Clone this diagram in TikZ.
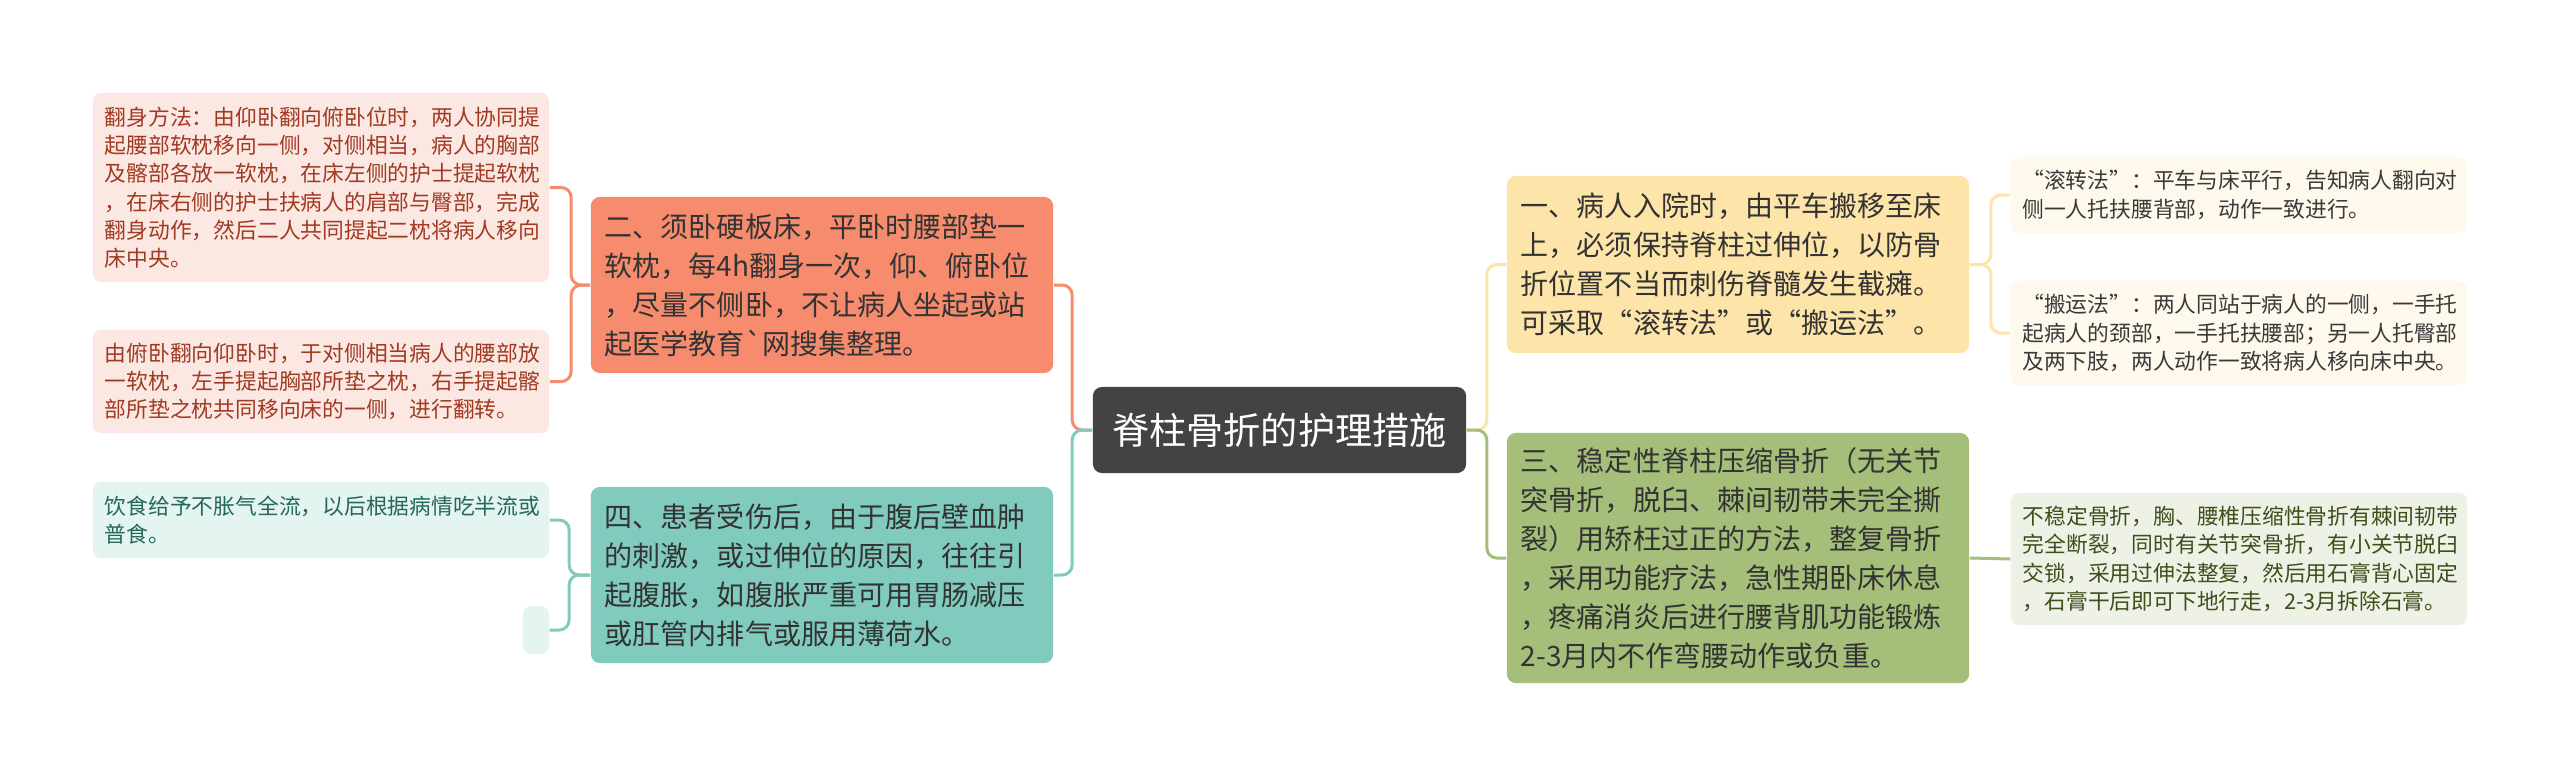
\documentclass[tikz,border=0pt]{standalone}
\usepackage{fontspec}
\setmainfont{Noto Sans CJK SC}[Ligatures=TeXOff]
\usepackage{tikz}

% Colours
\definecolor{centreC}{HTML}{434343}
\definecolor{orMain}{HTML}{F68C6D}
\definecolor{orLeaf}{HTML}{FCE8E3}
\definecolor{orText}{HTML}{A13A22}
\definecolor{tlMain}{HTML}{80CBBD}
\definecolor{tlLeaf}{HTML}{E3F4F1}
\definecolor{tlText}{HTML}{25685A}
\definecolor{ylMain}{HTML}{FDE5A9}
\definecolor{ylLeaf}{HTML}{FEF9EC}
\definecolor{ylText}{HTML}{3A3A3A}
\definecolor{grMain}{HTML}{A5BE7A}
\definecolor{grLeaf}{HTML}{EEF1E6}
\definecolor{grText}{HTML}{3F4F1C}
\definecolor{mainText}{HTML}{333333}

\tikzset{
  centrebox/.style={fill=centreC, rounded corners=0.9mm, minimum width=37.3mm,
    minimum height=8.6mm, inner sep=0, align=center, text=white,
    font=\fontsize{10.56}{13}\selectfont},
  mainbox/.style={rounded corners=0.9mm, inner xsep=1.4mm, inner ysep=0,
    text width=43.4mm, minimum height=#1, align=left, text=mainText,
    font=\fontsize{7.97}{11.1}\selectfont},
  leafbox/.style={rounded corners=0.8mm, inner xsep=1.2mm, inner ysep=0,
    text width=43.2mm, minimum height=#1, align=left,
    font=\fontsize{6.19}{8.05}\selectfont},
  link/.style={line width=0.3mm, rounded corners=1mm}
}

\begin{document}
\begin{tikzpicture}[x=0.01cm, y=-0.01cm]
    \fill[white] (0,0) rectangle (2560,778);
    \useasboundingbox (0,0) rectangle (2560,778);
    % Centre
    \node[centrebox] (cen) at (1279.5,430) {脊柱骨折的护理措施};
    % Main topics
    \node[mainbox=17.6mm, fill=orMain] (er) at (822,285)
    {二、须卧硬板床，平卧时腰部垫一\\软枕，每4h翻身一次，仰、俯卧位\\，尽量不侧卧，不让病人坐起或站\\起医学教育`网搜集整理。};
    \node[mainbox=17.6mm, fill=tlMain] (si) at (822,575)
    {四、患者受伤后，由于腹后壁血肿\\的刺激，或过伸位的原因，往往引\\起腹胀，如腹胀严重可用胃肠减压\\或肛管内排气或服用薄荷水。};
    \node[mainbox=17.7mm, fill=ylMain] (yi) at (1738,264.5)
    {一、病人入院时，由平车搬移至床\\上，必须保持脊柱过伸位，以防骨\\折位置不当而刺伤脊髓发生截瘫。\\可采取“滚转法”或“搬运法”。};
    \node[mainbox=25mm, fill=grMain] (san) at (1738,558)
    {三、稳定性脊柱压缩骨折（无关节\\突骨折，脱臼、棘间韧带未完全撕\\裂）用矫枉过正的方法，整复骨折\\，采用功能疗法，急性期卧床休息\\，疼痛消炎后进行腰背肌功能锻炼\\2-3月内不作弯腰动作或负重。};
    % Left leaves
    \node[leafbox=18.9mm, fill=orLeaf, text=orText] (fanA) at (321,187.5)
    {翻身方法：由仰卧翻向俯卧位时，两人协同提\\起腰部软枕移向一侧，对侧相当，病人的胸部\\及髂部各放一软枕，在床左侧的护士提起软枕\\，在床右侧的护士扶病人的肩部与臀部，完成\\翻身动作，然后二人共同提起二枕将病人移向\\床中央。};
    \node[leafbox=10.3mm, fill=orLeaf, text=orText] (fanB) at (321,381.5)
    {由俯卧翻向仰卧时，于对侧相当病人的腰部放\\一软枕，左手提起胸部所垫之枕，右手提起髂\\部所垫之枕共同移向床的一侧，进行翻转。};
    \node[leafbox=7.6mm, fill=tlLeaf, text=tlText] (yin) at (321,520)
    {饮食给予不胀气全流，以后根据病情吃半流或\\普食。};
    \node[fill=tlLeaf, rounded corners=0.8mm, inner sep=0, minimum width=2.6mm,
    minimum height=4.8mm] (blank) at (536,630) {};
    % Right leaves
    \node[leafbox=7.6mm, fill=ylLeaf, text=ylText] (gun) at (2238.5,195)
    {“滚转法”：平车与床平行，告知病人翻向对\\侧一人托扶腰背部，动作一致进行。};
    \node[leafbox=10.4mm, fill=ylLeaf, text=ylText] (ban) at (2238.5,333)
    {“搬运法”：两人同站于病人的一侧，一手托\\起病人的颈部，一手托扶腰部；另一人托臀部\\及两下肢，两人动作一致将病人移向床中央。};
    \node[leafbox=13.2mm, fill=grLeaf, text=grText] (bu) at (2239,559)
    {不稳定骨折，胸、腰椎压缩性骨折有棘间韧带\\完全断裂，同时有关节突骨折，有小关节脱臼\\交锁，采用过伸法整复，然后用石膏背心固定\\，石膏干后即可下地行走，2-3月拆除石膏。};
    % Links
    \draw[link, orMain] (cen.west) -- ++(-20,0) |- (er.east);
    \draw[link, tlMain] (cen.west) -- ++(-20,0) |- (si.east);
    \draw[link, ylMain] (cen.east) -- ++(20,0) |- (yi.west);
    \draw[link, grMain] (cen.east) -- ++(20,0) |- (san.west);
    \draw[link, orMain] (er.west) -- ++(-19,0) |- (fanA.east);
    \draw[link, orMain] (er.west) -- ++(-19,0) |- (fanB.east);
    \draw[link, tlMain] (si.west) -- ++(-21,0) |- (yin.east);
    \draw[link, tlMain] (si.west) -- ++(-21,0) |- (blank.east);
    \draw[link, ylMain] (yi.east) -- ++(21,0) |- (gun.west);
    \draw[link, ylMain] (yi.east) -- ++(21,0) |- (ban.west);
    \draw[link, grMain] (san.east) -- (bu.west);
\end{tikzpicture}
\end{document}
